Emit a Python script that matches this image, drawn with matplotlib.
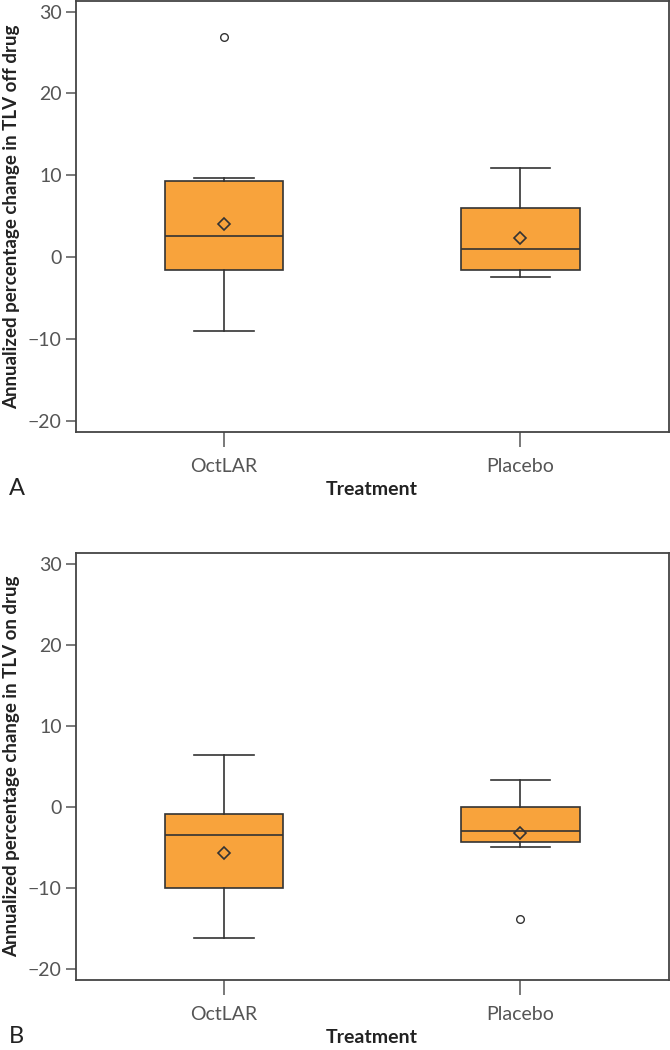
"""
    Boxplots: annualized percentage change in TLV, off drug (A) and on drug (B)
"""
import matplotlib
matplotlib.use("Agg")
import matplotlib.pyplot as plt

treatments = ["OctLAR", "Placebo"]

# Panel A : off drug
off_whislo = [-9.0, -2.5]
off_q1 = [-1.65, -1.65]
off_med = [2.55, 0.95]
off_q3 = [9.3, 6.05]
off_whishi = [9.6, 10.9]
off_mean = [4.0, 2.35]
off_fliers = [[26.9], []]

# Panel B : on drug
on_whislo = [-16.2, -5.0]
on_q1 = [-10.0, -4.35]
on_med = [-3.55, -3.0]
on_q3 = [-0.9, -0.1]
on_whishi = [6.35, 3.25]
on_mean = [-5.75, -3.25]
on_fliers = [[], [-13.85]]

orange = "#F8A33C"
dark = "#333333"

plt.rcParams['font.family'] = ['Lato', 'DejaVu Sans']

fig = plt.figure(figsize=(6.7, 10.5), dpi=100)
axA = fig.add_axes([0.113, 0.5886, 0.885, 0.4104])
axB = fig.add_axes([0.113, 0.0667, 0.885, 0.4066])


def make_stats(lo, q1, med, q3, hi, mean, fliers):
    stats = []
    for i in range(len(treatments)):
        stats.append({
            "label": treatments[i],
            "whislo": lo[i], "q1": q1[i], "med": med[i],
            "q3": q3[i], "whishi": hi[i], "mean": mean[i],
            "fliers": fliers[i],
        })
    return stats


def draw(ax, stats, ylabel, letter):
    ax.bxp(stats, positions=[1, 2], widths=0.4, capwidths=0.2,
           showmeans=True, patch_artist=True,
           boxprops=dict(facecolor=orange, edgecolor=dark, linewidth=1.2),
           medianprops=dict(color=dark, linewidth=1.2),
           whiskerprops=dict(color=dark, linewidth=1.2),
           capprops=dict(color=dark, linewidth=1.2),
           meanprops=dict(marker="D", markerfacecolor="none",
                          markeredgecolor=dark, markersize=6.5,
                          markeredgewidth=1.2),
           flierprops=dict(marker="o", markerfacecolor="none",
                           markeredgecolor=dark, markersize=5.5,
                           markeredgewidth=1.0))
    ax.set_xlim(0.5, 2.5)
    ax.set_ylim(-21.4, 31.3)
    ax.set_yticks([-20, -10, 0, 10, 20, 30])
    ax.set_yticklabels(["\u221220", "\u221210", "0", "10", "20", "30"])
    ax.tick_params(axis="y", direction="out", length=7, width=1.1,
                   color="#555555", labelcolor="#555555", labelsize=14, pad=3)
    ax.tick_params(axis="x", direction="out", length=11, width=1.1,
                   color="#555555", labelcolor="#555555", labelsize=14, pad=8)
    for s in ax.spines.values():
        s.set_color("#444444")
        s.set_linewidth(1.3)
    ax.set_xlabel("Treatment", fontsize=14, fontweight="bold",
                  color="#222222", labelpad=4)
    ax.set_ylabel(ylabel, fontsize=13.5, fontweight="bold",
                  color="#222222", labelpad=2)
    ax.yaxis.set_label_coords(-0.093, 0.5)
    ax.text(-0.112, -0.132, letter, transform=ax.transAxes, fontsize=17,
            color="#222222", ha="left", va="center")


draw(axA, make_stats(off_whislo, off_q1, off_med, off_q3, off_whishi,
                     off_mean, off_fliers),
     "Annualized percentage change in TLV off drug", "A")
draw(axB, make_stats(on_whislo, on_q1, on_med, on_q3, on_whishi,
                     on_mean, on_fliers),
     "Annualized percentage change in TLV on drug", "B")

fig.savefig("out.png", dpi=100)
